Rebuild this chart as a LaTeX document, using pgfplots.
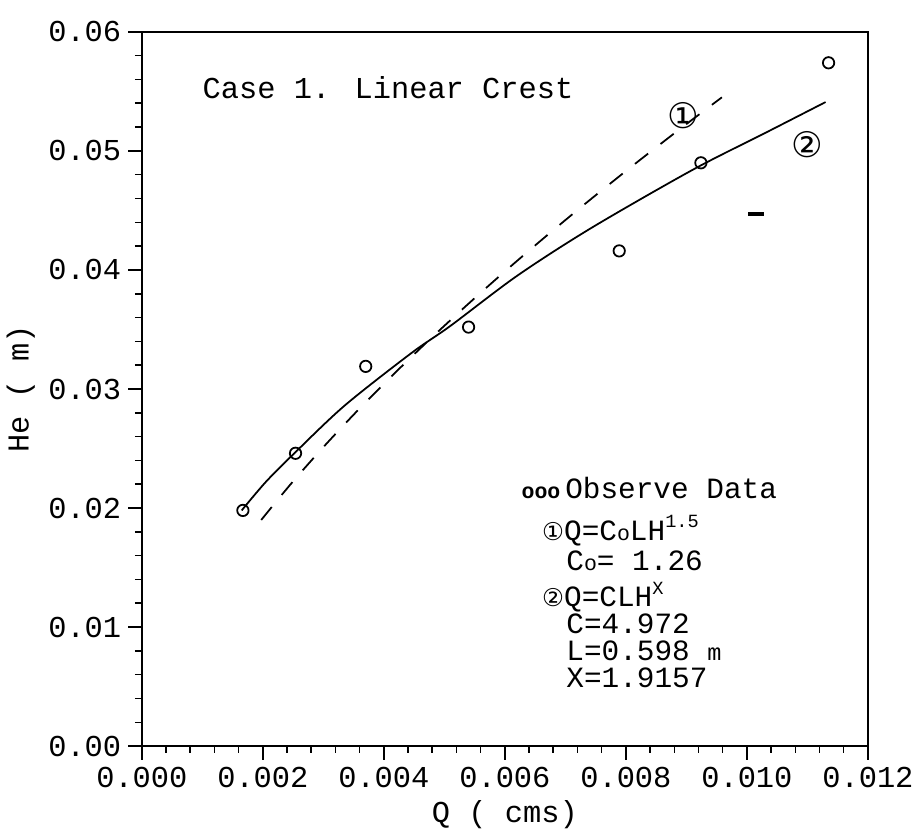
\documentclass[border=0pt]{standalone}
\usepackage{pgfplots}
\pgfplotsset{compat=1.18}
\usepackage{fontspec}
\setmainfont{Liberation Mono}
\newfontfamily\circfont{DejaVu Sans}
\tikzset{lbl/.style={font=\fontsize{15.5}{17}\selectfont, anchor=west, inner sep=0pt},
         leg/.style={font=\fontsize{15}{16}\selectfont, anchor=west, inner sep=0pt}}
\begin{document}
\begin{tikzpicture}
\begin{axis}[
  scale only axis, width=370.5pt, height=364.5pt,
  xmin=0, xmax=0.012, ymin=0, ymax=0.06,
  xtick={0,0.002,0.004,0.006,0.008,0.010,0.012},
  ytick={0,0.01,0.02,0.03,0.04,0.05,0.06},
  minor x tick num=4, minor y tick num=4,
  tick align=outside, tick pos=left,
  major tick length=7pt, minor tick length=3.5pt,
  axis line style={line width=1pt},
  every tick/.style={black, line width=0.8pt},
  scaled ticks=false,
  x tick label style={/pgf/number format/.cd, fixed, fixed zerofill, precision=3, assume math mode=true, /tikz/.cd},
  y tick label style={/pgf/number format/.cd, fixed, fixed zerofill, precision=2, assume math mode=true, /tikz/.cd},
  tick label style={font=\fontsize{15.5}{17}\selectfont},
  xlabel={Q ( cms)}, ylabel={He ( m)},
  label style={font=\fontsize{15.5}{17}\selectfont},
  clip=false,
]
% observed data
\addplot[only marks, mark=o, mark size=2.9pt, mark options={line width=0.9pt, solid}]
  coordinates {(0.00167,0.0198) (0.00254,0.0246) (0.0037,0.0319) (0.0054,0.0352)
               (0.00789,0.0416) (0.00924,0.0490) (0.01135,0.0574)};
% stray mark
\addplot[only marks, mark=-, mark size=4pt, mark options={line width=1.6pt}]
  coordinates {(0.01015,0.0447)};
% curve 1 (dashed)
\addplot[black, line width=0.9pt, dash pattern=on 8.5pt off 8pt, smooth]
  coordinates {(0.001973,0.019) (0.002459,0.022) (0.002979,0.025) (0.003530,0.028)
               (0.004113,0.031) (0.004724,0.034) (0.005363,0.037) (0.006028,0.040)
               (0.006719,0.043) (0.007434,0.046) (0.008173,0.049) (0.008935,0.052)
               (0.009587,0.0545)};
% curve 2 (solid)
\addplot[black, line width=0.9pt, smooth]
  coordinates {(0.00165,0.0198) (0.00205,0.0222) (0.00252,0.0246) (0.00335,0.0286)
               (0.00445,0.0330) (0.00510,0.0353) (0.00620,0.0395) (0.00742,0.0435)
               (0.00910,0.0484) (0.01030,0.0515) (0.01130,0.0541)};
% texts
\node[lbl] at (axis cs:0.0010,0.0553) {Case 1. Linear Crest};
\node[font=\circfont\fontsize{18}{18}\selectfont, inner sep=0pt] at (axis cs:0.00895,0.0530) {①};
\node[font=\circfont\fontsize{18}{18}\selectfont, inner sep=0pt] at (axis cs:0.01100,0.0505) {②};
\node[leg] at (axis cs:0.00627,0.0217) {{\fontsize{11}{11}\selectfont\bfseries ooo}\,Observe Data};
\node[leg] at (axis cs:0.00661,0.0181) {{\circfont\fontsize{12.5}{12.5}\selectfont ①}Q=C{\fontsize{11}{11}\selectfont o}LH\raisebox{0.8ex}{\fontsize{9.5}{9.5}\selectfont 1.5}};
\node[leg] at (axis cs:0.00701,0.01560) {C{\fontsize{11}{11}\selectfont o}= 1.26};
\node[leg] at (axis cs:0.00661,0.0125) {{\circfont\fontsize{12.5}{12.5}\selectfont ②}Q=CLH\raisebox{0.8ex}{\fontsize{9.5}{9.5}\selectfont X}};
\node[leg] at (axis cs:0.00701,0.0103) {C=4.972};
\node[leg] at (axis cs:0.00701,0.0080) {L=0.598 {\fontsize{12}{12}\selectfont m}};
\node[leg] at (axis cs:0.00701,0.0057) {X=1.9157};
\path (rel axis cs:-0.1903,-0.1104) rectangle (rel axis cs:1.0513,1.0446);
\end{axis}
\end{tikzpicture}
\end{document}
